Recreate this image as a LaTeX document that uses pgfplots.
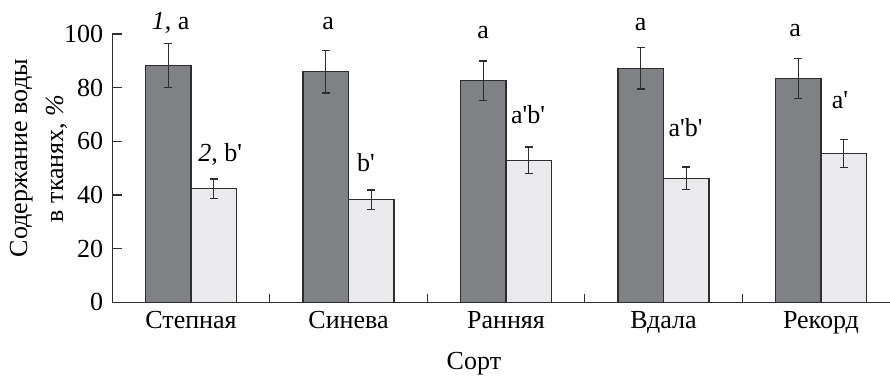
\documentclass[border=0pt]{standalone}
\usepackage{pgfplots}
\pgfplotsset{compat=1.18}
\usepackage{fontspec}
\setmainfont{Liberation Serif}[Ligatures=TeXOff]
\definecolor{darkbar}{RGB}{128,129,133}
\definecolor{lightbar}{RGB}{234,234,236}
\definecolor{edge}{RGB}{45,45,45}
\newcommand{\pr}{'}
\begin{document}
\fontsize{13}{15}\selectfont
\begin{tikzpicture}
\begin{axis}[
  scale only axis,
  width=388.5pt, height=134pt,
  xmin=-0.5, xmax=4.438,
  ymin=0, ymax=100,
  axis lines=left,
  axis line style={-, edge, line width=0.6pt},
  ybar=0pt, bar width=0.289,
  xtick={0,1,2,3,4},
  xticklabels={Степная,Синева,Ранняя,Вдала,Рекорд},
  major x tick style={draw=none},
  minor xtick={0.5,1.5,2.5,3.5},
  minor tick length=4pt,
  minor x tick style={edge, line width=0.6pt},
  ytick={0,20,40,60,80,100},
  major tick length=5pt,
  tick align=inside,
  y tick style={edge, line width=0.6pt},
  tick label style={font=\rmfamily\fontsize{13}{15}\selectfont},
  /pgf/number format/assume math mode=true,
  ylabel={Содержание воды\\в тканях, \textit{\%}},
  ylabel style={align=center, at={(axis description cs:-0.095,0.537)}, anchor=center, rotate=0, font=\rmfamily\fontsize{13}{18}\selectfont},
  xlabel={Сорт},
  xlabel style={at={(axis description cs:0.465,-0.228)}, anchor=center, font=\rmfamily\fontsize{13}{15}\selectfont},
  every node/.append style={font=\rmfamily\fontsize{13}{15}\selectfont},
  clip=false,
  error bars/y dir=both,
  error bars/y explicit,
  error bars/error bar style={edge, line width=0.7pt},
  error bars/error mark options={rotate=90, mark size=2pt, edge, line width=0.7pt},
]
\addplot[fill=darkbar, draw=edge, line width=0.6pt] coordinates {
  (0,88.2) +- (0,8.2)
  (1,85.9) +- (0,7.9)
  (2,82.6) +- (0,7.3)
  (3,87.3) +- (0,7.8)
  (4,83.4) +- (0,7.5)
};
\addplot[fill=lightbar, draw=edge, line width=0.6pt] coordinates {
  (0,42.3) +- (0,3.6)
  (1,38.3) +- (0,3.6)
  (2,53.0) +- (0,4.9)
  (3,46.2) +- (0,4.2)
  (4,55.5) +- (0,5.2)
};
\node at (axis cs:-0.13,104) {\textit{1}, a};
\node at (axis cs:0.185,55) {\textit{2}, b\pr};
\node at (axis cs:0.87,104) {a};
\node at (axis cs:1.11,52) {b\pr};
\node at (axis cs:1.855,100.4) {a};
\node at (axis cs:2.14,70) {a\pr b\pr};
\node at (axis cs:2.855,103.4) {a};
\node at (axis cs:3.14,65) {a\pr b\pr};
\node at (axis cs:3.835,101.5) {a};
\node at (axis cs:4.12,75.4) {a\pr};
\coordinate (bbl) at (axis cs:-1.213,-28.4);
\coordinate (btr) at (axis cs:4.438,112.7);
\end{axis}
\pgfresetboundingbox
\path[use as bounding box] (bbl) rectangle (btr);
\end{tikzpicture}
\end{document}
